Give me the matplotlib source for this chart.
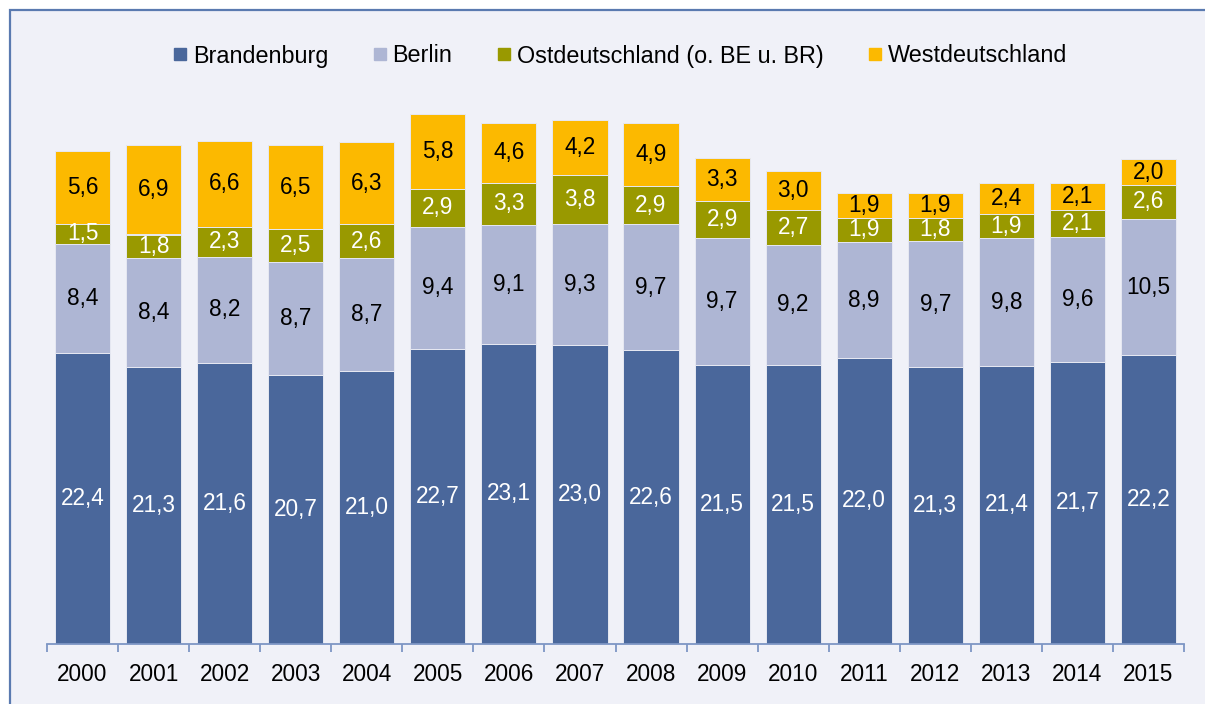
import matplotlib.pyplot as plt
import matplotlib.patches as mpatches
from matplotlib.lines import Line2D
import numpy as np

plt.rcParams['font.family'] = ['Liberation Sans', 'DejaVu Sans']

years = [str(y) for y in range(2000, 2016)]
brandenburg = [22.4, 21.3, 21.6, 20.7, 21.0, 22.7, 23.1, 23.0, 22.6, 21.5, 21.5, 22.0, 21.3, 21.4, 21.7, 22.2]
berlin = [8.4, 8.4, 8.2, 8.7, 8.7, 9.4, 9.1, 9.3, 9.7, 9.7, 9.2, 8.9, 9.7, 9.8, 9.6, 10.5]
ost = [1.5, 1.8, 2.3, 2.5, 2.6, 2.9, 3.3, 3.8, 2.9, 2.9, 2.7, 1.9, 1.8, 1.9, 2.1, 2.6]
west = [5.6, 6.9, 6.6, 6.5, 6.3, 5.8, 4.6, 4.2, 4.9, 3.3, 3.0, 1.9, 1.9, 2.4, 2.1, 2.0]

names = ['Brandenburg', 'Berlin', 'Ostdeutschland (o. BE u. BR)', 'Westdeutschland']
colors = ['#4A679B', '#AEB6D4', '#999900', '#FCB900']
text_colors = ['white', 'black', 'white', 'black']

W, H = 1205, 704
fig = plt.figure(figsize=(W / 100, H / 100), dpi=100)
fig.patch.set_facecolor('white')

# panel background with frame (left/top edges visible)
bg = mpatches.Rectangle((10 / W, -0.05), 1.1, (H - 10) / H + 0.05, transform=fig.transFigure,
                        facecolor='#F0F1F8', edgecolor='#5A7AB0', linewidth=1.6, zorder=-5)
fig.patches.append(bg)

ax = fig.add_axes([47 / W, 60 / H, (1184 - 47) / W, 585 / H])
ax.set_facecolor('none')
ax.set_zorder(2)

x = np.arange(len(years))
bottom = np.zeros(len(years))
for vals, name, c, tc in zip([brandenburg, berlin, ost, west], names, colors, text_colors):
    bars = ax.bar(x, vals, width=0.775, bottom=bottom, color=c, edgecolor='#E6E8F2',
                  linewidth=0.7, label=name)
    ax.bar_label(bars, labels=[f'{v:.1f}'.replace('.', ',') for v in vals],
                 label_type='center', color=tc, fontsize=16.3)
    bottom += np.array(vals)

ax.set_xlim(-0.5, len(years) - 0.5)
ax.set_ylim(0, 45)
ax.set_yticks([])
for s in ['left', 'right', 'top']:
    ax.spines[s].set_visible(False)
ax.spines['bottom'].set_color('#7D96C4')
ax.spines['bottom'].set_linewidth(1.3)
ax.set_xticks(x)
ax.set_xticklabels(years, fontsize=16.3)
ax.tick_params(axis='x', which='major', length=0, pad=14)
ax.set_xticks(np.arange(-0.5, len(years)), minor=True)
ax.tick_params(axis='x', which='minor', length=6, width=1.3, color='#7D96C4', direction='out')

handles = [Line2D([], [], marker='s', linestyle='none', markersize=8.6,
                  markerfacecolor=c, markeredgecolor=c) for c in colors]
fig.legend(handles, names, loc='center', bbox_to_anchor=(620 / W, 1 - 56 / H), ncol=4,
           frameon=False, fontsize=16.8, handlelength=0.6, handletextpad=0.25,
           columnspacing=1.9)

fig.savefig('out.png', dpi=100)
